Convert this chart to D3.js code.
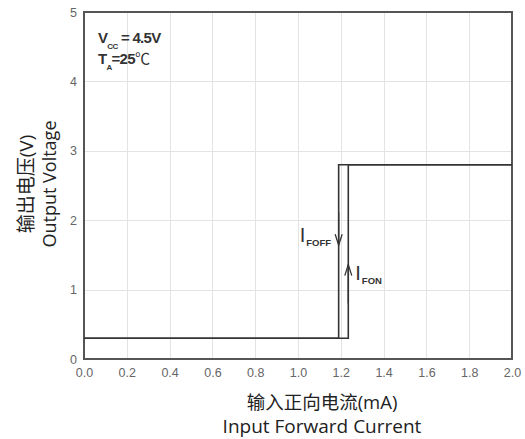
<!DOCTYPE html>
<html>
<head>
<meta charset="utf-8">
<script src="https://cdn.jsdelivr.net/npm/d3@7"></script>
<style>
  body { margin: 0; background: #fff; }
  svg { display: block; }
</style>
</head>
<body>
<script>
// Transfer characteristic: output voltage vs input forward current (hysteresis loop)
const xTicks = [0.0, 0.2, 0.4, 0.6, 0.8, 1.0, 1.2, 1.4, 1.6, 1.8, 2.0];
const yTicks = [0, 1, 2, 3, 4, 5];
// Turn-on path (rising current): low until IFON, then high
const onCurrent = [0.0, 1.235, 1.235, 2.0];
const onVoltage = [0.3, 0.3, 2.8, 2.8];
// Turn-off path (falling current): high until IFOFF, then low
const offCurrent = [2.0, 1.19, 1.19, 0.0];
const offVoltage = [2.8, 2.8, 0.3, 0.3];
// Arrow markers along each vertical segment (current, voltage from -> to)
const arrowOff = { x: 1.19, from: 2.11, to: 1.64 };
const arrowOn = { x: 1.235, from: 0.8, to: 1.36 };

const W = 525, H = 439;
const m = { left: 84, right: 13, top: 12, bottom: 80 };

const svg = d3.select("body").append("svg").attr("width", W).attr("height", H);

const x = d3.scaleLinear().domain([0, 2]).range([m.left, W - m.right]);
const y = d3.scaleLinear().domain([0, 5]).range([H - m.bottom, m.top]);

// grid
const grid = svg.append("g").attr("stroke", "#e3e3e3").attr("stroke-width", 1);
grid.selectAll("line.v").data(xTicks.slice(1, -1)).join("line")
  .attr("x1", d => Math.round(x(d)) + 0.5).attr("x2", d => Math.round(x(d)) + 0.5)
  .attr("y1", y(5)).attr("y2", y(0));
grid.selectAll("line.h").data(yTicks.slice(1, -1)).join("line")
  .attr("y1", d => Math.round(y(d)) + 0.5).attr("y2", d => Math.round(y(d)) + 0.5)
  .attr("x1", x(0)).attr("x2", x(2));

// axes (labels only, frame drawn separately)
const axisFont = "Liberation Sans, Arial, sans-serif";
const xAxis = svg.append("g").attr("transform", `translate(0,${y(0)})`)
  .call(d3.axisBottom(x).tickValues(xTicks).tickFormat(d3.format(".1f")).tickSize(0).tickPadding(9));
const yAxis = svg.append("g").attr("transform", `translate(${x(0)},0)`)
  .call(d3.axisLeft(y).tickValues(yTicks).tickFormat(d3.format("d")).tickSize(0).tickPadding(7));
[xAxis, yAxis].forEach(a => {
  a.select(".domain").remove();
  a.selectAll("text").attr("fill", "#666").attr("font-size", 12.5).attr("font-family", axisFont);
});

// frame
svg.append("rect")
  .attr("x", x(0)).attr("y", y(5))
  .attr("width", x(2) - x(0)).attr("height", y(0) - y(5))
  .attr("fill", "none").attr("stroke", "#555").attr("stroke-width", 2);

// hysteresis curves
const line = d3.line().x(d => x(d[0])).y(d => y(d[1]));
const curves = [d3.zip(onCurrent, onVoltage), d3.zip(offCurrent, offVoltage)];
svg.append("g").selectAll("path").data(curves).join("path")
  .attr("d", line).attr("fill", "none").attr("stroke", "#333").attr("stroke-width", 1.6);

// direction arrows
function arrow(a) {
  const g = svg.append("g").attr("stroke", "#333").attr("stroke-width", 1.3).attr("fill", "none");
  const px = x(a.x), y0 = y(a.from), y1 = y(a.to);
  const dir = Math.sign(y1 - y0);
  g.append("line").attr("x1", px).attr("x2", px).attr("y1", y0).attr("y2", y1);
  g.append("path").attr("d", `M${px - 3.5},${y1 - dir * 11}L${px},${y1}L${px + 3.5},${y1 - dir * 11}`);
}
arrow(arrowOff);
arrow(arrowOn);

// arrow labels
function currentLabel(px, py, sub) {
  const t = svg.append("text").attr("x", px).attr("y", py)
    .attr("font-family", axisFont).attr("fill", "#333");
  t.append("tspan").attr("font-size", 20).text("I");
  t.append("tspan").attr("font-size", 9.5).attr("font-weight", "bold").attr("dy", 4).attr("dx", 1).text(sub);
}
currentLabel(x(arrowOff.x) - 39, 242, "FOFF");
currentLabel(x(arrowOn.x) + 7, 280, "FON");

// operating conditions
const cond = svg.append("g").attr("font-family", axisFont).attr("font-weight", "bold").attr("fill", "#333");
const t1 = cond.append("text").attr("x", 98).attr("y", 43).attr("letter-spacing", -0.7);
t1.append("tspan").attr("font-size", 15).text("V");
t1.append("tspan").attr("font-size", 8).attr("dy", 6).text("CC");
t1.append("tspan").attr("font-size", 15).attr("dy", -6).text(" = 4.5V");
const t2 = cond.append("text").attr("x", 98).attr("y", 64).attr("letter-spacing", -0.7);
t2.append("tspan").attr("font-size", 15).text("T");
t2.append("tspan").attr("font-size", 8).attr("dy", 6).text("A");
t2.append("tspan").attr("font-size", 15).attr("dy", -6).text("=25");
t2.append("tspan").attr("font-size", 15).attr("font-weight", "normal").attr("font-family", "Noto Sans CJK SC").text("℃");

// axis titles
const titleFont = "Open Sans, Noto Sans CJK SC, sans-serif";
const xt = svg.append("g").attr("font-family", titleFont).attr("fill", "#222").attr("text-anchor", "middle");
xt.append("text").attr("x", 322).attr("y", 409).attr("font-size", 18.5).text("输入正向电流(mA)");
xt.append("text").attr("x", 322).attr("y", 433).attr("font-size", 19).text("Input Forward Current");

const yt = svg.append("g").attr("font-family", titleFont).attr("fill", "#222").attr("text-anchor", "middle")
  .attr("transform", "translate(0,184) rotate(-90)");
yt.append("text").attr("x", 0).attr("y", 33).attr("font-size", 19).text("输出电压(V)");
yt.append("text").attr("x", 0).attr("y", 56).attr("font-size", 18).text("Output Voltage");
</script>
</body>
</html>
